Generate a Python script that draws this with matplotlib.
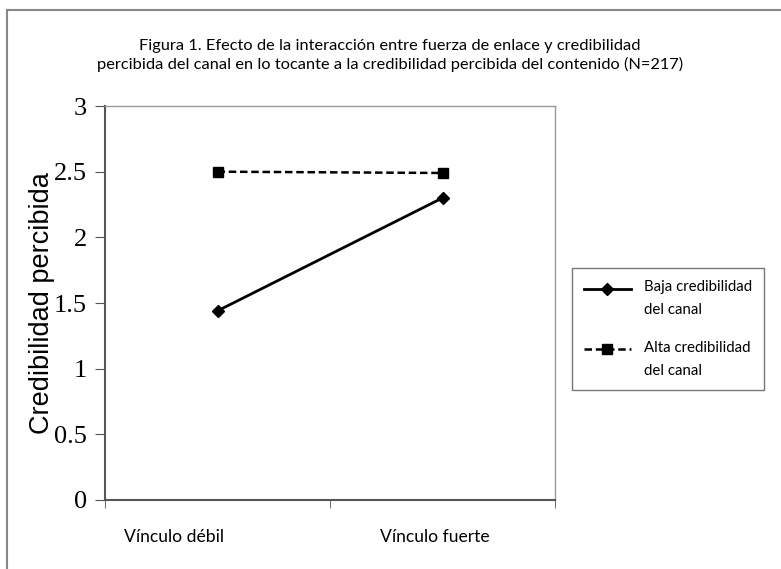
import matplotlib
matplotlib.use("Agg")
import matplotlib.pyplot as plt
from matplotlib.lines import Line2D
from matplotlib.legend_handler import HandlerLine2D
from matplotlib.transforms import Affine2D, ScaledTranslation

categories = ["Vínculo débil", "Vínculo fuerte"]
baja = [1.44, 2.30]
alta = [2.50, 2.49]
series_labels = ["Baja credibilidad\ndel canal", "Alta credibilidad\ndel canal"]
yticks = [0, 0.5, 1, 1.5, 2, 2.5, 3]
ytick_labels = ["0", "0.5", "1", "1.5", "2", "2.5", "3"]
title = ("Figura 1. Efecto de la interacción entre fuerza de enlace y credibilidad\n"
         "percibida del canal en lo tocante a la credibilidad percibida del contenido (N=217)")
ylabel = "Credibilidad percibida"

# horizontal pixel offsets of category labels (as placed in the original)
label_offsets_px = [-43, -8]

W, H = 781, 569
fig = plt.figure(figsize=(W / 100, H / 100), dpi=100)

# outer border (top and left)
fig.add_artist(Line2D([7 / W, 7 / W], [0, 1 - 10 / H], transform=fig.transFigure,
                      color="#888888", lw=1.5))
fig.add_artist(Line2D([7 / W, 1], [1 - 10 / H, 1 - 10 / H], transform=fig.transFigure,
                      color="#888888", lw=1.5))

ax = fig.add_axes([105 / W, 1 - 500 / H, (555 - 105) / W, (500 - 106) / H])
x = list(range(len(categories)))
ax.plot(x, baja, color="black", lw=2, marker="D", markersize=6, label=series_labels[0])
ax.plot(x, alta, color="black", lw=1.8, ls=(0, (3, 1.5)), marker="s", markersize=7,
        label=series_labels[1])

ax.set_xlim(-0.5, len(categories) - 0.5)
ax.set_ylim(0, 3)
ax.set_yticks(yticks)
ax.set_yticklabels(ytick_labels, fontfamily="Liberation Serif", fontsize=19)
ax.set_xticks(x)
ax.set_xticklabels(categories, fontfamily="Lato", fontsize=12.6)
ax.tick_params(axis="x", length=0, pad=21)
ax.set_xticks([-0.5, 0.5, 1.5], minor=True)
ax.tick_params(axis="x", which="minor", length=6, direction="out", color="#555555")
ax.tick_params(axis="y", length=7, direction="out", color="#555555", pad=6)
for lbl, dx in zip(ax.get_xticklabels(), label_offsets_px):
    lbl.set_transform(lbl.get_transform() + ScaledTranslation(dx / 100, 0, fig.dpi_scale_trans))

for s in ["top", "right"]:
    ax.spines[s].set_color("#999999")
    ax.spines[s].set_linewidth(1.0)
for s in ["left", "bottom"]:
    ax.spines[s].set_color("#555555")
    ax.spines[s].set_linewidth(1.5)

ax.set_ylabel(ylabel, fontfamily="Liberation Sans", fontsize=19.5, labelpad=-0.5)

fig.text(390 / W, 1 - 55.5 / H, title, ha="center", va="center", fontfamily="Lato",
         fontsize=11.8, linespacing=1.3)


class TopAlignedHandler(HandlerLine2D):
    def __init__(self, dy, **kw):
        super().__init__(**kw)
        self.dy = dy

    def create_artists(self, legend, orig_handle, xdescent, ydescent, width, height,
                       fontsize, trans):
        return super().create_artists(legend, orig_handle, xdescent, ydescent, width,
                                      height, fontsize,
                                      Affine2D().translate(0, self.dy) + trans)


handles, labels = ax.get_legend_handles_labels()
leg = fig.legend(handles, labels, loc="upper left", bbox_to_anchor=(572 / W, 1 - 268 / H),
                 borderaxespad=0,
                 prop={"family": "Lato", "size": 10.8}, frameon=True, fancybox=False,
                 edgecolor="#555555", handlelength=3.1, labelspacing=1.55, borderpad=0.8,
                 handletextpad=0.9,
                 handler_map={Line2D: TopAlignedHandler(7.5)})
leg.get_frame().set_linewidth(1.0)
for t in leg.get_texts():
    t.set_linespacing(1.85)

fig.savefig("out.png", dpi=100)
